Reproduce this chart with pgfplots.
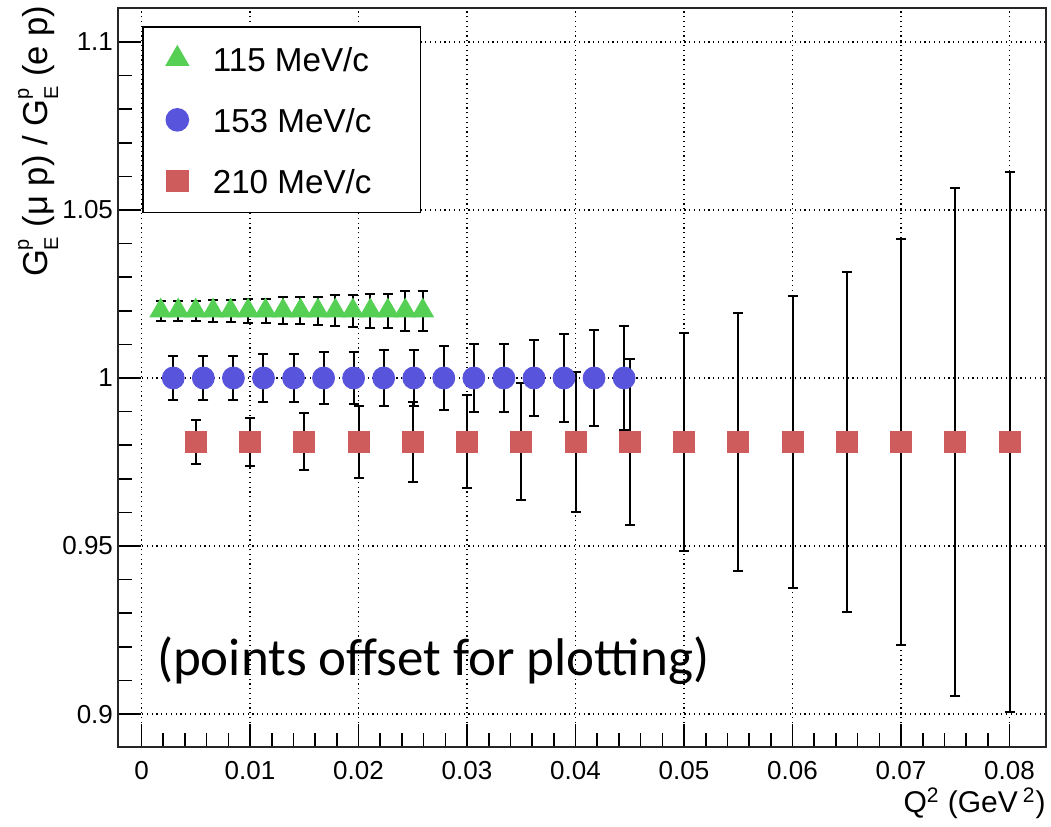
\documentclass[border=0pt]{standalone}
\usepackage{pgfplots}
\pgfplotsset{compat=1.18}
\usepackage{fontspec}
\setmainfont{Liberation Sans}
\newfontfamily\calibri{Carlito}
\definecolor{mgreen}{RGB}{85,208,85}
\definecolor{mblue}{RGB}{88,84,220}
\definecolor{mred}{RGB}{206,92,92}
\newcommand\GEp{G\makebox[0pt][l]{\raisebox{1.05ex}{\fontsize{10}{10}\selectfont p}}\raisebox{-0.55ex}{\fontsize{10}{10}\selectfont E}}
\pgfplotstableread{
x y e
0.00177 1.020 0.0030
0.00338 1.020 0.0030
0.00499 1.020 0.0030
0.00660 1.020 0.0033
0.00821 1.020 0.0033
0.00982 1.020 0.0036
0.01143 1.020 0.0036
0.01304 1.020 0.0040
0.01465 1.020 0.0040
0.01626 1.020 0.0042
0.01787 1.020 0.0046
0.01948 1.020 0.0048
0.02109 1.020 0.0051
0.02270 1.020 0.0051
0.02431 1.020 0.0060
0.02592 1.020 0.0060
}\greendata
\pgfplotstableread{
x y e
0.00293 1.000 0.0066
0.00570 1.000 0.0066
0.00847 1.000 0.0066
0.01124 1.000 0.0071
0.01401 1.000 0.0071
0.01678 1.000 0.0078
0.01955 1.000 0.0078
0.02232 1.000 0.0083
0.02509 1.000 0.0083
0.02786 1.000 0.0094
0.03063 1.000 0.0101
0.03340 1.000 0.0101
0.03617 1.000 0.0113
0.03894 1.000 0.0130
0.04171 1.000 0.0142
0.04448 1.000 0.0155
}\bluedata
\pgfplotstableread{
x y e
0.005 0.981 0.0066
0.010 0.981 0.0071
0.015 0.981 0.0085
0.020 0.981 0.0107
0.025 0.981 0.0118
0.030 0.981 0.0138
0.035 0.981 0.0174
0.040 0.981 0.0208
0.045 0.981 0.0248
0.050 0.981 0.0324
0.055 0.981 0.0384
0.060 0.981 0.0434
0.065 0.981 0.0505
0.070 0.981 0.0605
0.075 0.981 0.0755
0.080 0.981 0.0804
}\reddata
\begin{document}
\begin{tikzpicture}
\path[use as bounding box] (-59pt,-39.5pt) rectangle (466.5pt,373.5pt);
\begin{axis}[
  at={(0pt,0pt)}, anchor=south west,
  scale only axis, width=464pt, height=369.5pt,
  xmin=-0.002166, xmax=0.08336, ymin=0.8902, ymax=1.1101,
  axis line style={line width=1pt, black!85},
  scaled x ticks=false, scaled y ticks=false,
  xtick={0,0.01,0.02,0.03,0.04,0.05,0.06,0.07,0.08},
  xticklabels={0,0.01,0.02,0.03,0.04,0.05,0.06,0.07,0.08},
  ytick={0.9,0.95,1,1.05,1.1},
  yticklabels={0.9,0.95,1,1.05,1.1},
  minor x tick num=4, minor y tick num=4,
  xtick pos=bottom, ytick pos=left, tick align=inside,
  major tick length=11.5pt, minor tick length=7pt,
  tick style={black, line width=0.8pt},
  grid=major,
  major grid style={black, line width=0.6pt, dash pattern=on 0.6pt off 1.8pt},
  /pgf/number format/assume math mode=true,
  ticklabel style={font=\fontsize{13}{13}\selectfont},
  xticklabel style={yshift=-3.5pt},
  yticklabel style={xshift=1pt},
  every axis y label/.style={at={(rel axis cs:-0.0862,1.004)}, rotate=90, anchor=east, inner sep=0pt, font=\fontsize{17.3}{17.3}\selectfont},
  every axis x label/.style={at={(rel axis cs:1.0,-0.0758)}, anchor=east, inner sep=0pt, font=\fontsize{15}{15}\selectfont},
  ylabel={\GEp{} (μ p) / \GEp{} (e p)},
  xlabel={Q\textsuperscript{2} (GeV\,\textsuperscript{2})},
  legend style={at={(rel axis cs:0.0259,0.9756)}, anchor=north west, draw=black, line width=0.8pt, fill=white,
    inner xsep=0pt, inner ysep=9.8pt, row sep=18.3pt, font=\fontsize{16.6}{16.6}\selectfont,
    nodes={inner sep=0pt, text height=12.2pt, text depth=0pt}},
  legend cell align=left,
  legend image code/.code={\path[draw=none,fill=none] (-17.25pt,-6.1pt) rectangle (17.75pt,6.1pt); \draw[#1] plot[only marks] coordinates {(0pt,0pt)};},
]
\addplot[only marks, mark=triangle*, mark size=6.2pt, color=mgreen,
  error bars/.cd, y dir=both, y explicit,
  error bar style={black, line width=1pt},
  error mark options={black, rotate=90, mark size=2.5pt, line width=1pt}]
  table[x=x, y=y, y error=e] {\greendata};
\addlegendentry{115 MeV/c\hspace*{24.5pt}}
\addplot[only marks, mark=*, mark size=5.5pt, color=mblue,
  error bars/.cd, y dir=both, y explicit,
  error bar style={black, line width=1pt},
  error mark options={black, rotate=90, mark size=2.5pt, line width=1pt}]
  table[x=x, y=y, y error=e] {\bluedata};
\addlegendentry{153 MeV/c\hspace*{24.5pt}}
\addplot[only marks, mark=square*, mark size=5.25pt, color=mred,
  error bars/.cd, y dir=both, y explicit,
  error bar style={black, line width=1pt},
  error mark options={black, rotate=90, mark size=2.5pt, line width=1pt}]
  table[x=x, y=y, y error=e] {\reddata};
\addlegendentry{210 MeV/c\hspace*{24.5pt}}
\node[anchor=west, inner sep=0pt, font=\calibri\fontsize{26.5}{26.5}\selectfont] at (axis cs:0.0014,0.9158) {(points offset for plotting)};
\end{axis}
\end{tikzpicture}
\end{document}
